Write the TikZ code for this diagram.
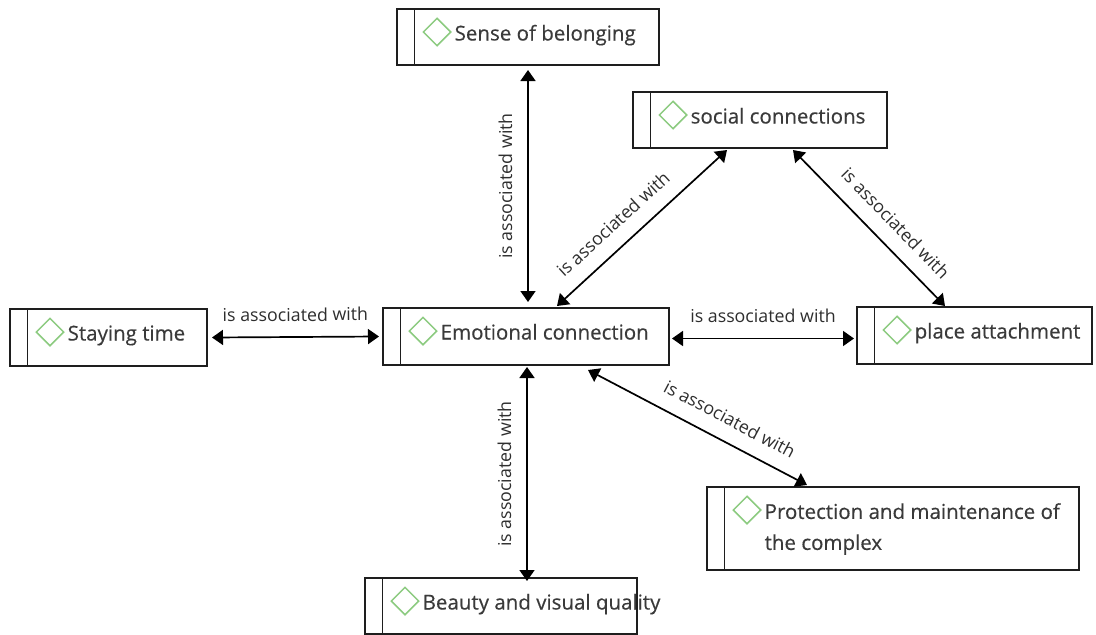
\documentclass[tikz,border=0pt]{standalone}
\usepackage{fontspec}
\setmainfont{Open Sans}
\newfontfamily\boxfont[FakeBold=0.35]{Open Sans}
\usetikzlibrary{arrows.meta,shapes.geometric}
\definecolor{txt}{HTML}{3A3A3A}
\definecolor{lbl}{HTML}{2E2E2E}
\definecolor{dgreen}{HTML}{8CCB80}
\definecolor{edge}{HTML}{1E1E1E}
\tikzset{
  cboxshape/.style={draw=edge, line width=1.6pt, fill=white, rectangle, inner sep=0pt, outer sep=0pt},
  strip/.style={draw=edge, line width=1.6pt},
  diam/.style={diamond, draw=dgreen, line width=1.5pt, minimum width=28pt, minimum height=28pt, inner sep=0pt, aspect=1},
  ctext/.style={text=txt, font=\boxfont\fontsize{20.5}{31}\selectfont, inner sep=0pt, align=left},
  arr/.style={{Triangle[length=11pt,width=15pt]}-{Triangle[length=11pt,width=15pt]}, line width=1.7pt, draw=black},
  lab/.style={text=lbl, font=\fontsize{17.8}{20}\selectfont, inner sep=0pt, text height=13pt, text depth=0pt, sloped, above=15pt}
}
\newcommand\conceptbox[6]{%
  \node[cboxshape, minimum width=#4pt, minimum height=#5pt, anchor=north west] (#1) at (#2,#3) {};
  \draw[strip] ([xshift=17.5pt]#1.north west) -- ([xshift=17.5pt]#1.south west);
  \node[diam] (#1-d) at ([xshift=40pt,yshift=-23pt]#1.north west) {};
  \node[ctext, anchor=base west] (#1-t) at ([xshift=57.5pt,yshift=-31.5pt]#1.north west) {#6};
}
\begin{document}
\begin{tikzpicture}[x=1pt,y=-1pt]
\path[use as bounding box] (0,0) rectangle (1096,635);
\conceptbox{sense}{397}{9}{262}{56}{Sense of belonging}
\conceptbox{social}{633}{92}{254}{56}{social connections}
\conceptbox{stay}{10}{309}{197}{57}{Staying time}
\conceptbox{emo}{383}{308}{286}{57}{Emotional connection}
\conceptbox{place}{857}{307}{235}{57}{place attachment}
\conceptbox{beauty}{365}{578}{272}{56}{Beauty and visual quality}
% protection (two lines)
\node[cboxshape, minimum width=372pt, minimum height=83pt, anchor=north west] (prot) at (707,487) {};
\draw[strip] ([xshift=17.5pt]prot.north west) -- ([xshift=17.5pt]prot.south west);
\node[diam] (prot-d) at ([xshift=40pt,yshift=-23pt]prot.north west) {};
\node[ctext, anchor=north west] (prot-t) at ([xshift=57.5pt,yshift=-16pt]prot.north west) {Protection and maintenance of\\the complex};
% connectors
\draw[arr] ([xshift=2pt,yshift=6pt]emo.north) -- ([xshift=0pt,yshift=-5pt]sense.south)
  node[lab, midway] {is associated with};
\draw[arr] ([xshift=26pt,yshift=-3pt]beauty.north) -- ([xshift=1pt,yshift=-2pt]emo.south)
  node[lab, midway] {is associated with};
\draw[arr] ([xshift=5pt]stay.east) -- ([xshift=-4pt]emo.west)
  node[lab, midway] {is associated with};
\draw[arr] ([xshift=3pt,yshift=-2pt]emo.east) -- ([xshift=-3pt,yshift=-3pt]place.west)
  node[lab, midway] {is associated with};
\draw[arr] ([xshift=31pt,yshift=2pt]emo.north) -- ([xshift=-33pt,yshift=-2pt]social.south)
  node[lab, pos=0.42] {is associated with};
\draw[arr] ([xshift=33pt,yshift=-2pt]social.south) -- ([xshift=-29.5pt,yshift=1pt]place.north)
  node[lab, pos=0.57] {is associated with};
\draw[arr] ([xshift=62pt,yshift=-5pt]emo.south) -- ([xshift=-86pt,yshift=2pt]prot.north)
  node[lab, pos=0.6] {is associated with};
\end{tikzpicture}
\end{document}
